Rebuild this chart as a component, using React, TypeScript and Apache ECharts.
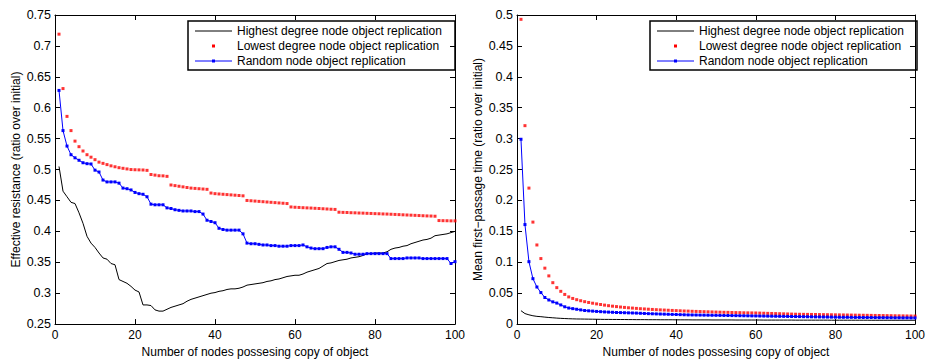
import React, { useEffect, useRef } from "react";
import * as echarts from "echarts";

// ---------- data ----------
const SERIES_NAMES = [
  "Highest degree node object replication",
  "Lowest degree node object replication",
  "Random node object replication",
];

const X_AXIS_NAME = "Number of nodes possesing copy of object";
const LEFT_Y_NAME = "Effective resistance (ratio over initial)";
const RIGHT_Y_NAME = "Mean first\u2212passage time (ratio over initial)";

// number of nodes possessing a copy (1..100)
const NODE_COUNTS: number[] = Array.from({ length: 100 }, (_, i) => i + 1);

// Left panel: effective resistance
const ER_HIGHEST = [
  0.505, 0.465, 0.456, 0.447, 0.445, 0.43, 0.413, 0.392, 0.381, 0.374,
  0.365, 0.357, 0.355, 0.348, 0.346, 0.322, 0.319, 0.316, 0.311, 0.305,
  0.302, 0.281, 0.281, 0.28, 0.273, 0.271, 0.271, 0.274, 0.277, 0.279,
  0.281, 0.283, 0.287, 0.29, 0.292, 0.294, 0.296, 0.298, 0.3, 0.301,
  0.303, 0.304, 0.306, 0.307, 0.307, 0.308, 0.31, 0.313, 0.314, 0.315,
  0.316, 0.317, 0.319, 0.32, 0.322, 0.323, 0.325, 0.327, 0.328, 0.329,
  0.329, 0.331, 0.334, 0.336, 0.338, 0.34, 0.344, 0.348, 0.349, 0.351,
  0.353, 0.354, 0.355, 0.357, 0.358, 0.359, 0.361, 0.364, 0.364, 0.365,
  0.365, 0.365, 0.367, 0.371, 0.373, 0.374, 0.376, 0.377, 0.38, 0.382,
  0.384, 0.386, 0.387, 0.389, 0.393, 0.394, 0.395, 0.396, 0.398, 0.4,
];

const ER_LOWEST = [
  0.719, 0.631, 0.586, 0.563, 0.546, 0.537, 0.53, 0.524, 0.52, 0.516,
  0.512, 0.51, 0.508, 0.506, 0.5045, 0.503, 0.502, 0.501, 0.5, 0.4997,
  0.4995, 0.4993, 0.4987, 0.492, 0.491, 0.49, 0.4898, 0.489, 0.475, 0.474,
  0.473, 0.472, 0.471, 0.47, 0.4695, 0.469, 0.4685, 0.468, 0.462, 0.461,
  0.4605, 0.46, 0.4595, 0.459, 0.4585, 0.458, 0.4575, 0.45, 0.4495, 0.449,
  0.4485, 0.448, 0.4475, 0.447, 0.4465, 0.446, 0.4455, 0.445, 0.4395, 0.439,
  0.4387, 0.4383, 0.438, 0.4377, 0.4373, 0.437, 0.4366, 0.4362, 0.4358, 0.4355,
  0.431, 0.4307, 0.4305, 0.4302, 0.43, 0.4297, 0.4295, 0.4292, 0.429, 0.4287,
  0.4285, 0.4282, 0.428, 0.4277, 0.4274, 0.4271, 0.4268, 0.4265, 0.4262, 0.4259,
  0.4256, 0.4253, 0.425, 0.4248, 0.4245, 0.4175, 0.4173, 0.4172, 0.417, 0.417,
];

const ER_RANDOM = [
  0.628, 0.563, 0.538, 0.524, 0.519, 0.515, 0.511, 0.5095, 0.509, 0.499,
  0.496, 0.483, 0.48, 0.48, 0.48, 0.478, 0.47, 0.469, 0.467, 0.463,
  0.461, 0.46, 0.456, 0.444, 0.443, 0.443, 0.443, 0.438, 0.437, 0.435,
  0.434, 0.433, 0.433, 0.433, 0.432, 0.432, 0.428, 0.418, 0.416, 0.414,
  0.405, 0.403, 0.402, 0.402, 0.402, 0.402, 0.396, 0.381, 0.38, 0.38,
  0.379, 0.378, 0.378, 0.377, 0.377, 0.376, 0.376, 0.376, 0.377, 0.377,
  0.377, 0.378, 0.375, 0.373, 0.372, 0.372, 0.372, 0.374, 0.375, 0.375,
  0.371, 0.366, 0.366, 0.365, 0.363, 0.363, 0.363, 0.364, 0.364, 0.364,
  0.364, 0.364, 0.364, 0.356, 0.356, 0.356, 0.356, 0.357, 0.357, 0.357,
  0.357, 0.356, 0.356, 0.356, 0.356, 0.356, 0.356, 0.356, 0.348, 0.351,
];

// Right panel: mean first-passage time
const MFPT_HIGHEST = [
  0.0217, 0.017, 0.015, 0.0135, 0.0125, 0.012, 0.0113, 0.0107, 0.0102, 0.0097,
  0.0093, 0.009, 0.0087, 0.0085, 0.0083, 0.0082, 0.0081, 0.008, 0.0079, 0.0078,
  0.0077, 0.0076, 0.0076, 0.0075, 0.0075, 0.0074, 0.0074, 0.0073, 0.0073, 0.0072,
  0.0072, 0.0072, 0.0071, 0.0071, 0.0071, 0.007, 0.007, 0.007, 0.007, 0.0069,
  0.0069, 0.0069, 0.0069, 0.0068, 0.0068, 0.0068, 0.0068, 0.0068, 0.0067, 0.0067,
  0.0067, 0.0067, 0.0067, 0.0067, 0.0066, 0.0066, 0.0066, 0.0066, 0.0066, 0.0066,
  0.0066, 0.0065, 0.0065, 0.0065, 0.0065, 0.0065, 0.0065, 0.0065, 0.0065, 0.0064,
  0.0064, 0.0064, 0.0064, 0.0064, 0.0064, 0.0064, 0.0064, 0.0064, 0.0063, 0.0063,
  0.0063, 0.0063, 0.0063, 0.0063, 0.0063, 0.0063, 0.0063, 0.0063, 0.0062, 0.0062,
  0.0062, 0.0062, 0.0062, 0.0062, 0.0062, 0.0062, 0.0062, 0.0062, 0.0062, 0.0062,
];

const MFPT_LOWEST = [
  0.493, 0.321, 0.22, 0.165, 0.128, 0.106, 0.0905, 0.078, 0.067, 0.059,
  0.053, 0.048, 0.044, 0.0415, 0.0395, 0.0378, 0.0363, 0.035, 0.0338, 0.0327,
  0.0317, 0.0307, 0.0298, 0.029, 0.0283, 0.0276, 0.027, 0.0264, 0.0259, 0.0254,
  0.0249, 0.0245, 0.0241, 0.0237, 0.0233, 0.023, 0.0227, 0.0224, 0.0221, 0.0218,
  0.0215, 0.0212, 0.021, 0.0207, 0.0205, 0.0203, 0.0201, 0.0199, 0.0197, 0.0195,
  0.0193, 0.0191, 0.019, 0.0188, 0.0186, 0.0185, 0.0183, 0.0182, 0.0181, 0.018,
  0.0178, 0.0176, 0.0174, 0.0172, 0.017, 0.0168, 0.0166, 0.0164, 0.0162, 0.016,
  0.0159, 0.0158, 0.0157, 0.0156, 0.0155, 0.0154, 0.0153, 0.0152, 0.0151, 0.015,
  0.0149, 0.0148, 0.0147, 0.0146, 0.0145, 0.0144, 0.0143, 0.0142, 0.0141, 0.014,
  0.0139, 0.0138, 0.0137, 0.0136, 0.0135, 0.0134, 0.0133, 0.0132, 0.0131, 0.013,
];

const MFPT_RANDOM = [
  0.299, 0.161, 0.101, 0.0735, 0.06, 0.051, 0.043, 0.039, 0.036, 0.034,
  0.031, 0.028, 0.026, 0.025, 0.024, 0.023, 0.022, 0.0215, 0.021, 0.0205,
  0.0201, 0.0197, 0.0194, 0.0191, 0.0188, 0.0186, 0.0184, 0.0182, 0.018, 0.0178,
  0.0175, 0.0172, 0.0169, 0.0167, 0.0165, 0.0163, 0.0161, 0.0159, 0.0157, 0.0155,
  0.0153, 0.0151, 0.0149, 0.0148, 0.0147, 0.0146, 0.0145, 0.0144, 0.0143, 0.0142,
  0.0141, 0.014, 0.0139, 0.0138, 0.0137, 0.0136, 0.0135, 0.0134, 0.0133, 0.0132,
  0.0131, 0.013, 0.0129, 0.0128, 0.0127, 0.0126, 0.0125, 0.0124, 0.0123, 0.0122,
  0.0121, 0.012, 0.0119, 0.0118, 0.0117, 0.0116, 0.0115, 0.0114, 0.0113, 0.0112,
  0.0111, 0.011, 0.011, 0.0109, 0.0108, 0.0108, 0.0107, 0.0106, 0.0106, 0.0105,
  0.0104, 0.0104, 0.0103, 0.0103, 0.0102, 0.0102, 0.0101, 0.0101, 0.01, 0.01,
];

// ---------- styling ----------
const FONT = "'Liberation Sans', Arial, Helvetica, sans-serif";
const COLORS = ["#000000", "#ff0000", "#0000ff"];

const pairs = (ys: number[]) => NODE_COUNTS.map((x, i) => [x, ys[i]]);
const fmt = (v: number) => String(+v.toFixed(2));

function xAxes(gridIndex: number) {
  const common = {
    gridIndex,
    type: "value",
    min: 0,
    max: 100,
    interval: 20,
    splitLine: { show: false },
    axisLine: { show: true, onZero: false, lineStyle: { color: "#000", width: 1 } },
    axisTick: { show: true, inside: true, length: 5, lineStyle: { color: "#000" } },
  };
  return [
    {
      ...common,
      position: "bottom",
      axisLabel: { margin: 5, fontSize: 12, color: "#000", fontFamily: FONT },
      name: X_AXIS_NAME,
      nameLocation: "middle",
      nameGap: 19,
      nameTextStyle: { fontSize: 12, color: "#000", fontFamily: FONT },
    },
    { ...common, position: "top", axisLabel: { show: false } },
  ];
}

function yAxes(gridIndex: number, min: number, max: number, name: string) {
  const common = {
    gridIndex,
    type: "value",
    min,
    max,
    interval: 0.05,
    splitLine: { show: false },
    axisLine: { show: true, onZero: false, lineStyle: { color: "#000", width: 1 } },
    axisTick: { show: true, inside: true, length: 5, lineStyle: { color: "#000" } },
  };
  return [
    {
      ...common,
      position: "left",
      axisLabel: { margin: 4, fontSize: 12.5, color: "#000", fontFamily: FONT, formatter: fmt },
      name,
      nameLocation: "middle",
      nameGap: 33,
      nameTextStyle: { fontSize: 12, color: "#000", fontFamily: FONT },
    },
    { ...common, position: "right", axisLabel: { show: false } },
  ];
}

function seriesFor(xi: number, yi: number, high: number[], low: number[], rnd: number[]) {
  return [
    {
      name: SERIES_NAMES[0],
      type: "line",
      xAxisIndex: xi,
      yAxisIndex: yi,
      data: pairs(high),
      symbol: "none",
      lineStyle: { color: COLORS[0], width: 1 },
      itemStyle: { color: COLORS[0] },
    },
    {
      name: SERIES_NAMES[1],
      type: "scatter",
      xAxisIndex: xi,
      yAxisIndex: yi,
      data: pairs(low),
      symbol: "rect",
      symbolSize: 3,
      itemStyle: { color: COLORS[1] },
    },
    {
      name: SERIES_NAMES[2],
      type: "line",
      xAxisIndex: xi,
      yAxisIndex: yi,
      data: pairs(rnd),
      symbol: "rect",
      symbolSize: 3,
      showSymbol: true,
      showAllSymbol: true,
      lineStyle: { color: COLORS[2], width: 1 },
      itemStyle: { color: COLORS[2] },
    },
  ];
}

function legendBox(left: number, top: number) {
  const w = 267;
  const h = 49;
  const rowY = [top + 10, top + 25, top + 40];
  const lx1 = left + 7;
  const lx2 = left + 44;
  const tx = left + 49;
  const mid = (lx1 + lx2) / 2;
  const children: any[] = [
    {
      type: "rect",
      shape: { x: left, y: top, width: w, height: h },
      style: { fill: "#fff", stroke: "#000", lineWidth: 1.5 },
    },
    {
      type: "line",
      shape: { x1: lx1, y1: rowY[0], x2: lx2, y2: rowY[0] },
      style: { stroke: COLORS[0], lineWidth: 1 },
    },
    {
      type: "rect",
      shape: { x: mid - 1.5, y: rowY[1] - 1.5, width: 3, height: 3 },
      style: { fill: COLORS[1] },
    },
    {
      type: "line",
      shape: { x1: lx1, y1: rowY[2], x2: lx2, y2: rowY[2] },
      style: { stroke: COLORS[2], lineWidth: 1 },
    },
    {
      type: "rect",
      shape: { x: mid - 1.5, y: rowY[2] - 1.5, width: 3, height: 3 },
      style: { fill: COLORS[2] },
    },
  ];
  SERIES_NAMES.forEach((name, i) => {
    children.push({
      type: "text",
      x: tx,
      y: rowY[i],
      style: {
        text: name,
        fontSize: 12,
        fontFamily: FONT,
        fill: "#000",
        verticalAlign: "middle",
        align: "left",
      },
    });
  });
  return { type: "group", z: 100, children };
}

export default function App() {
  const ref = useRef<HTMLDivElement>(null);

  useEffect(() => {
    if (!ref.current) return;
    const chart = echarts.init(ref.current, undefined, { renderer: "svg" });
    chart.setOption({
      animation: false,
      backgroundColor: "#fff",
      grid: [
        { left: 55, top: 15, width: 400, height: 315, containLabel: false },
        { left: 517, top: 15, width: 400, height: 315, containLabel: false },
      ],
      xAxis: [...xAxes(0), ...xAxes(1)],
      yAxis: [
        ...yAxes(0, 0.25, 0.75, LEFT_Y_NAME),
        ...yAxes(1, 0, 0.5, RIGHT_Y_NAME),
      ],
      series: [
        ...seriesFor(0, 0, ER_HIGHEST, ER_LOWEST, ER_RANDOM),
        ...seriesFor(2, 2, MFPT_HIGHEST, MFPT_LOWEST, MFPT_RANDOM),
      ],
      graphic: [legendBox(188, 21), legendBox(650, 21)],
    });
    return () => chart.dispose();
  }, []);

  return (
    <div
      ref={ref}
      style={{ position: "fixed", left: 0, top: 0, width: 928, height: 363, background: "#fff" }}
    />
  );
}
